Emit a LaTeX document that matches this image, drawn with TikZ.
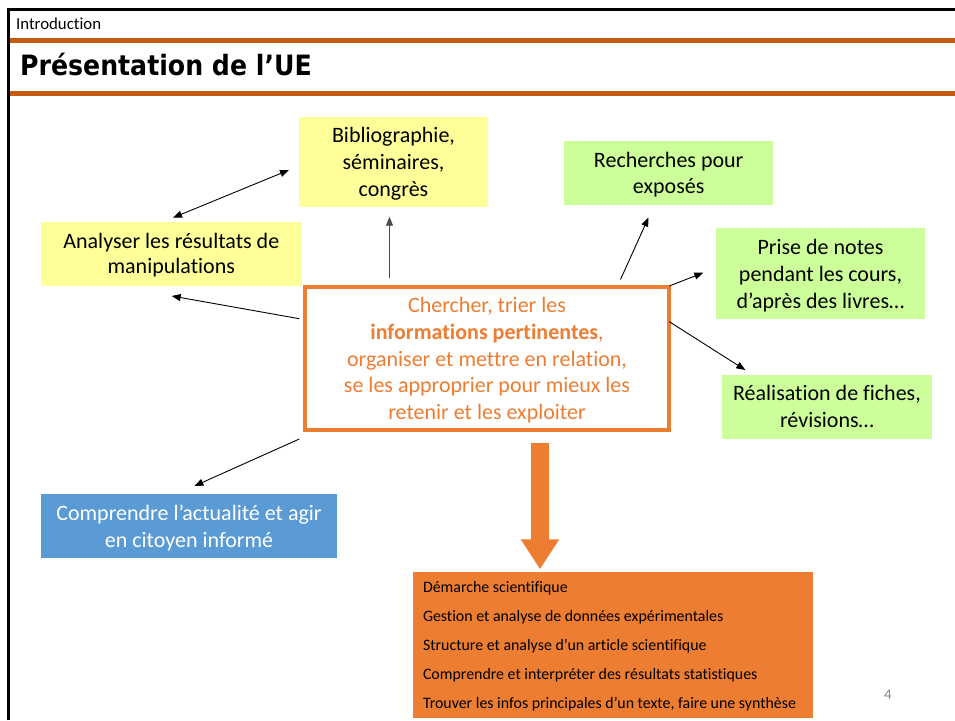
\documentclass[tikz,border=0pt]{standalone}
\usepackage{fontspec}
\usepackage{graphicx}
\setmainfont[Ligatures=NoCommon]{Carlito}
\newfontfamily\titlefont{DejaVu Sans}
\usetikzlibrary{arrows.meta}

\definecolor{paleyellow}{HTML}{FFFF99}
\definecolor{palegreen}{HTML}{CCFF99}
\definecolor{skyblue}{HTML}{5B9BD5}
\definecolor{accent}{HTML}{ED7D31}
\definecolor{rule}{HTML}{C55A11}
\definecolor{pagegray}{HTML}{898989}

\tikzset{
  box/.style={inner sep=0pt, outer sep=0pt, align=center, text depth=0pt,
    font=\fontsize{22}{27}\selectfont},
  yellowbox/.style={box, fill=paleyellow},
  greenbox/.style={box, fill=palegreen},
  thinarrow/.style={line width=0.9pt, -{Triangle[length=9pt,width=7pt]}},
  bigarrow/.style={draw=accent, line width=18.7pt,
    -{Triangle[length=30pt,width=36.4pt]}},
}

\begin{document}
\begin{tikzpicture}[x=1pt,y=-1pt]
\useasboundingbox[fill=white] (0,0) rectangle (955,720);

% slide frame and header rules
\draw[line width=3pt] (8.7,720) -- (8.7,9.5) -- (955,9.5);
\draw[rule, line width=4.7pt] (10,40.3) -- (955,40.3);
\draw[rule, line width=5pt] (10,93.2) -- (955,93.2);

\node[anchor=base west, inner sep=0pt, font=\fontsize{16.8}{20}\selectfont]
  (section) at (16,29.3) {Introduction};
\node[anchor=base west, inner sep=0pt]
  (title) at (20,75) {\scalebox{0.9}[1]{\titlefont\bfseries\fontsize{28}{32}\selectfont Présentation de l’UE}};

% surrounding boxes
\node[yellowbox, minimum width=189pt, minimum height=90pt]
  (biblio) at (393.5,162) {Bibliographie,\\séminaires,\\congrès};
\node[yellowbox, minimum width=260.7pt, minimum height=64pt,
  font=\fontsize{22}{25}\selectfont]
  (analyse) at (171.3,253.7) {Analyser les résultats de\\manipulations};
\node[greenbox, minimum width=209.3pt, minimum height=63.7pt,
  font=\fontsize{22}{25.5}\selectfont]
  (recherche) at (668.7,173) {Recherches pour\\exposés};
\node[greenbox, minimum width=209pt, minimum height=90.4pt]
  (notes) at (820.5,273.5) {Prise de notes\\pendant les cours,\\d’après des livres…};
\node[greenbox, minimum width=210pt, minimum height=63.7pt]
  (fiches) at (827,406.8) {Réalisation de fiches,\\révisions…};
\node[box, fill=skyblue, text=white, minimum width=296pt, minimum height=63.7pt]
  (actu) at (189,525.8) {Comprendre l’actualité et agir\\en citoyen informé};

% central box
\node[box, draw=accent, line width=4pt, text=accent, fill=white,
  minimum width=364pt, minimum height=143.3pt,
  font=\fontsize{22}{26.7}\selectfont]
  (centre) at (487,358.6)
  {Chercher, trier les\\\textbf{informations pertinentes},\\organiser et mettre en relation,\\se les approprier pour mieux les\\retenir et les exploiter};

% list of skills: filled panel, then its lines
\node[fill=accent, inner sep=0pt, minimum width=400pt, minimum height=145.7pt]
  (liste) at (613,644.8) {};
\node[anchor=west, inner sep=0pt, align=left, font=\fontsize{15.9}{29}\selectfont]
  (listetexte) at ([xshift=10pt,yshift=-1.5pt]liste.west)
  {Démarche scientifique\\
   Gestion et analyse de données expérimentales\\
   Structure et analyse d’un article scientifique\\
   Comprendre et interpréter des résultats statistiques\\
   Trouver les infos principales d’un texte, faire une synthèse};

\node[inner sep=0pt, text=pagegray, font=\fontsize{15}{18}\selectfont]
  (page) at (888,695) {4};

% connector end points
\coordinate (aBiblio) at (289,170);
\coordinate (aAnalyseTop) at (173,217.7);
\coordinate (cLeft) at (299.3,318.7);
\coordinate (aAnalyseBot) at (171.7,296);
\coordinate (cTop) at (389.5,278);
\coordinate (aBiblioBot) at (389.5,216.7);
\coordinate (cTopRight) at (620.5,279.5);
\coordinate (aRecherche) at (648.5,217.5);
\coordinate (cRightUp) at (669.3,286);
\coordinate (aNotes) at (703.3,272.7);
\coordinate (cRightDown) at (669.3,321.7);
\coordinate (aFiches) at (745.3,370);
\coordinate (cBottomLeft) at (299.3,439);
\coordinate (aActu) at (194.4,486);
\coordinate (bigStart) at (540,442.7);
\coordinate (bigEnd) at (540,569.3);

% connectors
\draw[thinarrow, {Triangle[length=9pt,width=7pt]}-{Triangle[length=9pt,width=7pt]}]
  (aAnalyseTop) -- (aBiblio);
\draw[thinarrow] (cLeft) -- (aAnalyseBot);
\draw[thinarrow, black!70] (cTop) -- (aBiblioBot);
\draw[thinarrow] (cTopRight) -- (aRecherche);
\draw[thinarrow] (cRightUp) -- (aNotes);
\draw[thinarrow] (cRightDown) -- (aFiches);
\draw[thinarrow] (cBottomLeft) -- (aActu);
\draw[bigarrow] (bigStart) -- (bigEnd);
\end{tikzpicture}
\end{document}
